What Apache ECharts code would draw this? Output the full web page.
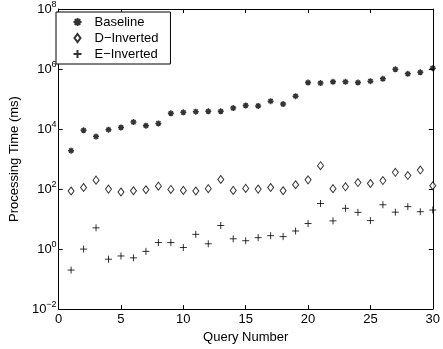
<!DOCTYPE html>
<html>
<head>
<meta charset="utf-8">
<script src="https://cdn.jsdelivr.net/npm/echarts@6/dist/echarts.min.js"></script>
<style>
  html, body { margin: 0; padding: 0; background: #fff; }
  #chart { width: 443px; height: 349px; }
</style>
</head>
<body>
<div id="chart"></div>
<script>
const queryNumbers = [1, 2, 3, 4, 5, 6, 7, 8, 9, 10, 11, 12, 13, 14, 15, 16, 17, 18, 19, 20, 21, 22, 23, 24, 25, 26, 27, 28, 29, 30]
const baseline = [1900, 9100, 5600, 9500, 11300, 17000, 12900, 15400, 33500, 36000, 38000, 39000, 39000, 50000, 61000, 59000, 85000, 68000, 124000, 355000, 340000, 375000, 375000, 355000, 395000, 470000, 980000, 690000, 780000, 1070000]
const dInverted = [86, 113, 198, 100, 80, 88, 95, 125, 97, 90, 86, 103, 208, 90, 105, 100, 113, 88, 139, 203, 600, 103, 119, 165, 153, 192, 362, 282, 430, 129]
const eInverted = [0.2, 1.0, 5.1, 0.46, 0.59, 0.51, 0.84, 1.65, 1.65, 1.13, 3.1, 1.5, 6.1, 2.2, 1.9, 2.4, 2.8, 2.6, 4.0, 7.1, 33, 8.7, 22.8, 16.7, 8.9, 30, 17, 26, 17.6, 20]
const seriesNames = ["Baseline", "D\u2212Inverted", "E\u2212Inverted"]
const xTicks = [0, 5, 10, 15, 20, 25, 30]

const FONT = "Liberation Sans"

// matlab style markers
const asterisk = "path://M0,5L10,5M5,0L5,10M1.5,1.5L8.5,8.5M8.5,1.5L1.5,8.5"
const plus = "path://M0,5L10,5M5,0L5,10"
const diamond = "path://M3,0L6,4L3,8L0,4Z"

const toPoints = (vals) => queryNumbers.map((q, i) => [q, vals[i]])

const chartDom = document.getElementById("chart")
const myChart = echarts.init(chartDom, null, { width: 443, height: 349 })

const expLabel = (value) => {
  const e = Math.round(Math.log10(value))
  return "{b|10}{s|" + String(e).replace("-", "\u2212") + "}"
}

const option = {
  animation: false,
  backgroundColor: "#fff",
  textStyle: { fontFamily: FONT },
  grid: { left: 52, right: 6, top: 6, bottom: 38, containLabel: false },
  legend: {
    orient: "vertical",
    left: 56,
    top: 12,
    data: seriesNames,
    backgroundColor: "#fff",
    borderColor: "#000",
    borderWidth: 1,
    borderRadius: 0,
    padding: [3, 12, 3, 15],
    itemGap: 2,
    itemWidth: 24,
    itemHeight: 8,
    symbolKeepAspect: true,
    textStyle: { fontFamily: FONT, fontSize: 13, color: "#000", lineHeight: 14 }
  },
  xAxis: [
    {
      type: "value",
      min: 0,
      max: 30,
      interval: 5,
      name: "Query Number",
      nameLocation: "middle",
      nameGap: 19,
      nameTextStyle: { fontFamily: FONT, fontSize: 13, color: "#000" },
      axisLine: { onZero: false, lineStyle: { color: "#000", width: 1 } },
      axisTick: { inside: true, length: 4, lineStyle: { color: "#000" } },
      axisLabel: {
        fontFamily: FONT, fontSize: 13, color: "#000", margin: 4,
        formatter: (v) => (xTicks.includes(v) ? String(v) : "")
      },
      splitLine: { show: false }
    },
    {
      type: "value",
      position: "top",
      min: 0,
      max: 30,
      interval: 5,
      axisLine: { onZero: false, lineStyle: { color: "#000", width: 1 } },
      axisTick: { inside: true, length: 4, lineStyle: { color: "#000" } },
      axisLabel: { show: false },
      splitLine: { show: false }
    }
  ],
  yAxis: [
    {
      type: "log",
      logBase: 10,
      min: 0.01,
      max: 1e8,
      interval: 2,
      name: "Processing Time (ms)",
      nameLocation: "middle",
      nameGap: 35,
      nameTextStyle: { fontFamily: FONT, fontSize: 13, color: "#000" },
      axisLine: { onZero: false, lineStyle: { color: "#000", width: 1 } },
      axisTick: { inside: true, length: 4, lineStyle: { color: "#000" } },
      minorTick: { show: false },
      axisLabel: {
        margin: 2,
        color: "#000",
        formatter: expLabel,
        rich: {
          b: { fontFamily: FONT, fontSize: 13, color: "#000" },
          s: { fontFamily: FONT, fontSize: 9, color: "#000", padding: [0, 0, 9, 0] }
        }
      },
      splitLine: { show: false }
    },
    {
      type: "log",
      logBase: 10,
      position: "right",
      min: 0.01,
      max: 1e8,
      interval: 2,
      axisLine: { onZero: false, lineStyle: { color: "#000", width: 1 } },
      axisTick: { inside: true, length: 4, lineStyle: { color: "#000" } },
      axisLabel: { show: false },
      splitLine: { show: false }
    }
  ],
  series: [
    {
      name: seriesNames[0],
      type: "scatter",
      data: toPoints(baseline),
      symbol: asterisk,
      symbolSize: 6,
      itemStyle: { color: "none", borderColor: "#000", borderWidth: 1.5 }
    },
    {
      name: seriesNames[1],
      type: "scatter",
      data: toPoints(dInverted),
      symbol: diamond,
      symbolSize: [6, 8],
      itemStyle: { color: "#fff", borderColor: "#000", borderWidth: 1 }
    },
    {
      name: seriesNames[2],
      type: "scatter",
      data: toPoints(eInverted),
      symbol: plus,
      symbolSize: 7,
      itemStyle: { color: "none", borderColor: "#000", borderWidth: 1 }
    }
  ]
}

myChart.setOption(option)
</script>
</body>
</html>
